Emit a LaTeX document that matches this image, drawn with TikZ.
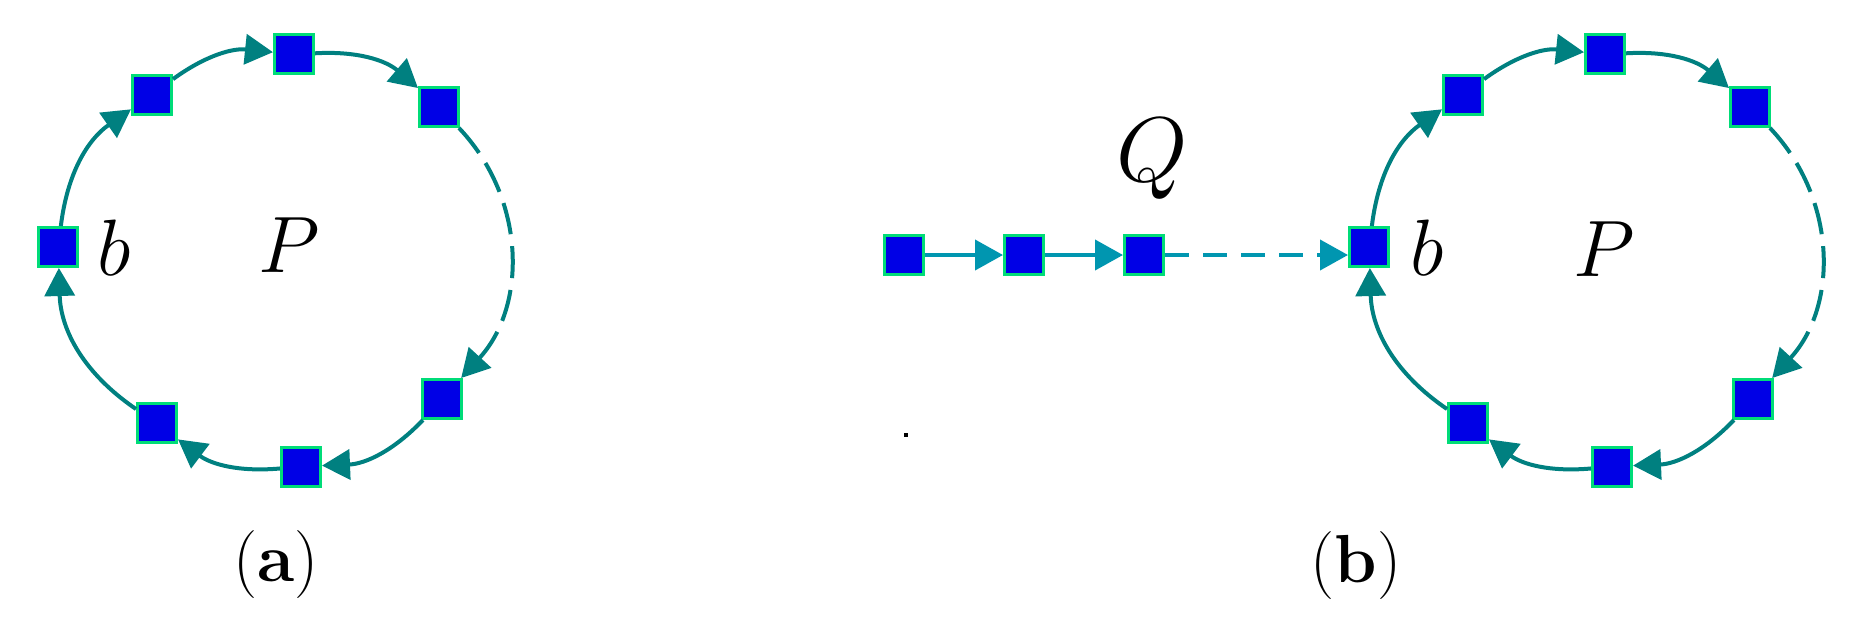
\RequirePackage{fix-cm}
\documentclass[tikz,border=0pt]{standalone}
\usepackage{amsmath}
\usepackage{tikz}
\usetikzlibrary{positioning, arrows.meta}

\definecolor{cellblue}{RGB}{0,0,230}
\definecolor{cellrim}{RGB}{0,220,120}
\definecolor{ringteal}{RGB}{0,128,128}
\definecolor{chaincyan}{RGB}{0,150,176}

\begin{document}
\begin{tikzpicture}[x=0.5pt, y=-0.5pt, node distance=60pt, on grid,
    cell/.style={draw=cellrim, fill=cellblue, line width=1.7pt, minimum size=19.3pt, inner sep=0pt},
    ring/.style={draw=ringteal, line width=2pt, -{Triangle[length=14pt, width=15pt]}, bend left=#1},
    gap/.style={dash pattern=on 16pt off 6pt},
    chain/.style={draw=chaincyan, line width=2pt, -{Triangle[length=14pt, width=15pt]}},
    mathlabel/.style={anchor=base, inner sep=0pt, font=\fontsize{40}{48}\selectfont},
    caption/.style={anchor=base, inner sep=0pt, font=\fontsize{34}{40}\selectfont}]
    \useasboundingbox (0,0) rectangle (1862,632);

    % (a)
    \node[cell] (ab)   at (58,247)  {};
    \node[cell] (atl)  at (152,95)  {};
    \node[cell] (at)   at (294,54)  {};
    \node[cell] (atr)  at (439,107) {};
    \node[cell] (abr)  at (442,399) {};
    \node[cell] (abot) at (301,467) {};
    \node[cell] (abl)  at (157,423) {};
    \node[mathlabel] (alb) at (114,275) {$b$};
    \node[mathlabel] (alp) at (289,272) {$P$};
    \node[caption] (capa) at (276,581) {(\textbf{a})};

    \path
    (ab)   edge [ring=24] (atl)
    (atl)  edge [ring=21] (at)
    (at)   edge [ring=22] (atr)
    (atr)  edge [ring=43, gap] (abr)
    (abr)  edge [ring=22] (abot)
    (abot) edge [ring=21] (abl)
    (abl)  edge [ring=27] (ab);

    % (b)
    \node[cell] (q1) at (904,255) {};
    \node[cell] (q2) [right=of q1] {};
    \node[cell] (q3) [right=of q2] {};
    \node[mathlabel, font=\fontsize{46}{54}\selectfont] (qlab) at (1152,181) {$Q$};

    \node[cell] (rb)   at (1369,247) {};
    \node[cell] (rtl)  at (1463,95)  {};
    \node[cell] (rt)   at (1605,54)  {};
    \node[cell] (rtr)  at (1750,107) {};
    \node[cell] (rbr)  at (1753,399) {};
    \node[cell] (rbot) at (1612,467) {};
    \node[cell] (rbl)  at (1468,423) {};
    \node[mathlabel] (rlb) at (1427,275) {$b$};
    \node[mathlabel] (rlp) at (1604,276) {$P$};
    \node[caption] (capb) at (1356,582) {(\textbf{b})};

    \path
    (q1) edge [chain] (q2)
    (q2) edge [chain] (q3);
    \draw[chain, dash pattern=on 12pt off 7pt] (q3) -- (q3 -| rb.west);

    \path
    (rb)   edge [ring=24] (rtl)
    (rtl)  edge [ring=21] (rt)
    (rt)   edge [ring=22] (rtr)
    (rtr)  edge [ring=43, gap] (rbr)
    (rbr)  edge [ring=22] (rbot)
    (rbot) edge [ring=21] (rbl)
    (rbl)  edge [ring=27] (rb);

    \fill (904,433) rectangle (908,437);
\end{tikzpicture}
\end{document}
